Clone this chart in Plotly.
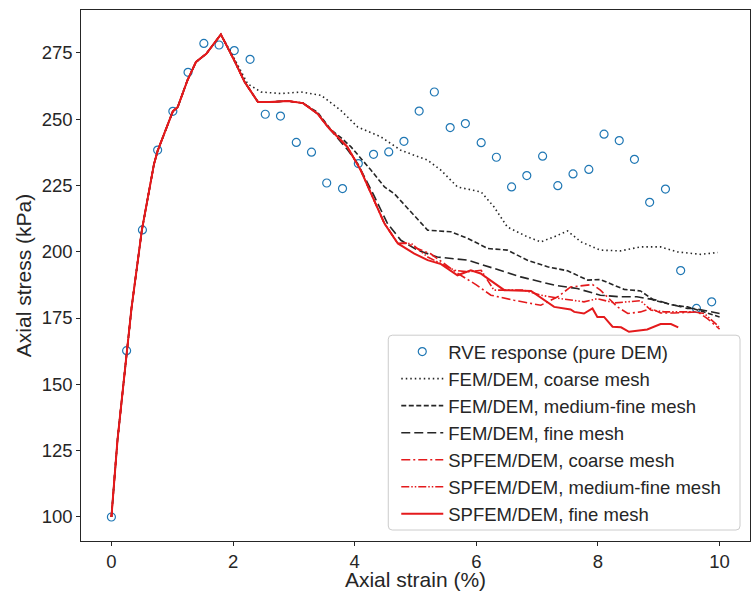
import plotly.graph_objects as go

# ---------------- data ----------------
rve_x = [0.0, 0.25, 0.51, 0.76, 1.01, 1.26, 1.52, 1.77, 2.02, 2.28,
         2.53, 2.78, 3.04, 3.29, 3.54, 3.80, 4.06, 4.31, 4.56, 4.81,
         5.06, 5.31, 5.57, 5.82, 6.08, 6.33, 6.58, 6.83, 7.09, 7.34,
         7.59, 7.85, 8.10, 8.35, 8.60, 8.85, 9.11, 9.36, 9.62, 9.87]
rve_y = [100.0, 162.7, 208.2, 238.3, 252.9, 267.6, 278.5, 277.9, 275.8, 272.5,
         251.8, 251.1, 241.2, 237.5, 225.9, 223.8, 233.2, 236.7, 237.6, 241.6,
         253.0, 260.2, 246.8, 248.3, 241.1, 235.6, 224.4, 228.7, 236.0, 224.9,
         229.3, 231.0, 244.3, 241.9, 234.8, 218.6, 223.6, 192.9, 178.6, 181.1]

# common loading branch (all simulations)
rise_x = [0.0, 0.10, 0.33, 0.50, 0.70, 0.76, 1.01, 1.09, 1.25, 1.39, 1.56, 1.80]
rise_y = [100.0, 129.0, 178.6, 208.0, 233.0, 238.0, 252.9, 254.5, 264.6, 271.5, 274.6, 281.9]

# common softening plateau (all except coarse FEM/DEM)
plat_x = [2.02, 2.19, 2.41, 2.60, 2.90, 3.15]
plat_y = [272.1, 264.0, 256.4, 256.4, 256.8, 256.0]

fem_coarse_x = [2.02, 2.24, 2.46, 2.79, 3.12, 3.45, 3.77, 4.05, 4.43, 4.76, 5.20, 5.42,
                5.69, 6.08, 6.29, 6.51, 6.84, 7.06, 7.28, 7.50, 7.72, 8.04, 8.37, 8.70,
                9.03, 9.31, 9.69, 9.97]
fem_coarse_y = [272.8, 263.3, 260.2, 259.6, 260.2, 258.9, 253.3, 247.0, 243.3, 238.2, 234.5, 230.7,
                224.4, 222.5, 216.9, 209.3, 205.6, 203.7, 205.6, 207.8, 203.7, 200.6, 200.3, 201.8,
                201.8, 199.9, 199.0, 199.7]

fem_medium_x = [3.39, 3.61, 3.80, 3.94, 4.27, 4.49, 4.65, 4.87, 5.20, 5.58, 5.86, 6.19,
                6.51, 6.84, 7.17, 7.50, 7.83, 8.04, 8.43, 8.70, 8.92, 9.25, 9.47, 9.69, 10.0]
fem_medium_y = [252.5, 246.0, 242.5, 239.5, 230.7, 224.4, 221.9, 216.3, 208.1, 207.5, 205.0, 201.2,
                200.6, 196.8, 194.3, 192.8, 189.3, 189.5, 185.8, 185.2, 181.7, 179.8, 179.2, 177.7, 175.4]

fem_fine_x = [3.39, 3.60, 3.88, 4.05, 4.32, 4.54, 4.76, 5.03, 5.36, 5.86, 6.29, 6.73,
              7.28, 7.66, 8.04, 8.37, 8.64, 8.97, 9.14, 9.47, 9.58, 10.0]
fem_fine_y = [252.0, 246.0, 238.5, 233.2, 221.0, 210.6, 204.3, 200.6, 198.0, 196.8, 193.7, 190.5,
              187.4, 186.1, 183.6, 183.0, 183.0, 181.7, 180.5, 178.6, 178.6, 176.7]

# common red branch (SPFEM/DEM) 3.39 - 4.71
sp_x = [3.39, 3.56, 3.88, 4.10, 4.27, 4.49, 4.71]
sp_y = [252.0, 247.0, 239.5, 230.7, 221.9, 210.6, 203.1]

sp_coarse_x = [4.84, 5.03, 5.25, 5.69, 6.00, 6.24, 6.62, 7.06, 7.34, 7.55, 7.91, 8.04,
               8.32, 8.49, 8.70, 8.87, 9.03, 9.25, 9.64, 9.80, 10.0]
sp_coarse_y = [203.3, 201.2, 199.2, 191.9, 187.5, 183.6, 181.7, 179.8, 183.0, 186.7, 187.6, 185.5,
               179.2, 176.7, 177.3, 178.6, 176.9, 176.9, 177.3, 174.8, 170.8]

sp_medium_x = [4.93, 5.20, 5.64, 5.86, 6.08, 6.29, 6.78, 7.06, 7.39, 7.77, 7.99, 8.27,
               8.70, 8.87, 9.09, 9.58, 9.75, 9.99]
sp_medium_y = [203.1, 198.0, 193.0, 192.4, 193.0, 185.5, 185.5, 183.6, 182.3, 181.1, 182.3, 180.7,
               181.5, 178.0, 177.3, 177.3, 176.7, 171.7]

sp_fine_x = [4.98, 5.20, 5.42, 5.69, 5.91, 6.07, 6.46, 6.90, 7.28, 7.55, 7.61, 7.77,
             7.91, 7.99, 8.10, 8.24, 8.38, 8.51, 8.81, 9.03, 9.20, 9.32]
sp_fine_y = [199.3, 196.8, 195.3, 191.1, 193.0, 191.8, 185.5, 185.2, 179.2, 178.2, 177.3, 176.7,
             178.6, 175.4, 175.4, 171.7, 171.5, 169.8, 170.7, 172.7, 172.7, 171.5]

x_ticks = [0, 2, 4, 6, 8, 10]
y_ticks = [100, 125, 150, 175, 200, 225, 250, 275]

# ---------------- styling ----------------
INK = "#262626"
RED = "#e41a1c"
BLUE = "#1f77b4"
FONT = "Liberation Sans, Arial, sans-serif"

W, H = 754, 591
ML, MR, MT, MB = 80.5, 4, 9.5, 50
PW, PH = W - ML - MR, H - MT - MB


def px2paper(px, py):
    return (px - ML) / PW, (H - MB - py) / PH


fig = go.Figure()

fig.add_trace(go.Scatter(
    x=rve_x, y=rve_y, mode="markers", name="RVE response (pure DEM)",
    marker=dict(symbol="circle-open", size=8, color=BLUE, line=dict(width=1.2, color=BLUE)),
    legendgroup="g0"))

series = [
    ("FEM/DEM, coarse mesh", rise_x + fem_coarse_x, rise_y + fem_coarse_y, INK, "1.5px,3px", 1.6),
    ("FEM/DEM, medium-fine mesh", rise_x + plat_x + fem_medium_x, rise_y + plat_y + fem_medium_y, INK, "5px,2.5px", 1.6),
    ("FEM/DEM, fine mesh", rise_x + plat_x + fem_fine_x, rise_y + plat_y + fem_fine_y, INK, "9px,4px", 1.6),
    ("SPFEM/DEM, coarse mesh", rise_x + plat_x + sp_x + sp_coarse_x, rise_y + plat_y + sp_y + sp_coarse_y, RED, "9px,3px,2px,3px", 1.6),
    ("SPFEM/DEM, medium-fine mesh", rise_x + plat_x + sp_x + sp_medium_x, rise_y + plat_y + sp_y + sp_medium_y, RED, "8px,2px,1.5px,2px,1.5px,2px", 1.6),
    ("SPFEM/DEM, fine mesh", rise_x + plat_x + sp_x + sp_fine_x, rise_y + plat_y + sp_y + sp_fine_y, RED, "solid", 2.0),
]

for i, (name, xs, ys, col, dash, w) in enumerate(series):
    fig.add_trace(go.Scatter(
        x=xs, y=ys, mode="lines", name=name,
        line=dict(color=col, dash=dash, width=w),
        legendgroup="g%d" % (i + 1)))

# rounded legend frame (drawn as a shape)
bx0, by0 = px2paper(388, 530)
bx1, by1 = px2paper(740, 335)
rx, ry = 4 / PW, 4 / PH
frame_path = (
    f"M{bx0+rx},{by0} L{bx1-rx},{by0} Q{bx1},{by0} {bx1},{by0+ry} "
    f"L{bx1},{by1-ry} Q{bx1},{by1} {bx1-rx},{by1} "
    f"L{bx0+rx},{by1} Q{bx0},{by1} {bx0},{by1-ry} "
    f"L{bx0},{by0+ry} Q{bx0},{by0} {bx0+rx},{by0} Z"
)
fig.add_shape(type="path", path=frame_path, xref="paper", yref="paper",
              fillcolor="rgba(255,255,255,0.8)", line=dict(color="#cccccc", width=1),
              layer="above")

axis_common = dict(
    showgrid=False, zeroline=False, showline=True, mirror=True, automargin=False,
    linecolor=INK, linewidth=1.25, ticks="outside", ticklen=3.5, tickwidth=1.25,
    tickcolor=INK, tickfont=dict(family=FONT, size=18.5, color=INK),
)

lx, ly = px2paper(396, 533)

fig.update_layout(
    width=W, height=H,
    margin=dict(l=ML, r=MR, t=MT, b=MB, autoexpand=False),
    paper_bgcolor="white", plot_bgcolor="white",
    font=dict(family=FONT, color=INK),
    xaxis=dict(range=[-0.5, 10.5], tickvals=x_ticks,
               title=dict(text="Axial strain (%)", font=dict(family=FONT, size=21, color=INK), standoff=3),
               **axis_common),
    yaxis=dict(range=[90.95, 291.1], tickvals=y_ticks,
               title=dict(text="Axial stress (kPa)", font=dict(family=FONT, size=21, color=INK), standoff=4),
               **axis_common),
    legend=dict(
        x=lx, y=ly, xanchor="left", yanchor="bottom",
        bgcolor="rgba(0,0,0,0)", borderwidth=0,
        font=dict(family=FONT, size=18.5, color=INK),
        itemwidth=42, tracegroupgap=0,
    ),
    showlegend=True,
)

fig.write_html("out.html", config={"displayModeBar": False},
               post_script="document.body.style.margin='0px';")
